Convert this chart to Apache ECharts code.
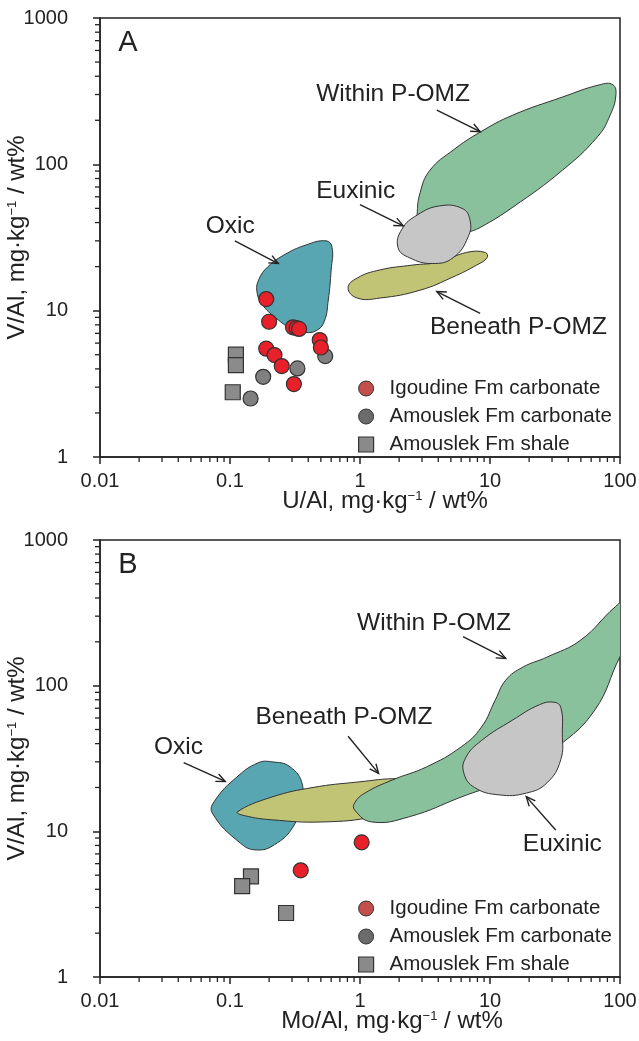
<!DOCTYPE html>
<html><head><meta charset="utf-8">
<script src="https://cdn.jsdelivr.net/npm/echarts@6/dist/echarts.min.js"></script>
<style>html,body{margin:0;padding:0;background:#fff}#c{width:639px;height:1041px}</style>
</head><body><div id="c"></div>
<script>
const FONT = "'Liberation Sans', Arial, Helvetica, sans-serif";
const INK = '#222';

// axis ticks
const xTickLabels = ['0.01', '0.1', '1', '10', '100'];
const yTickLabels = ['1', '10', '100', '1000'];
const minorMultipliers = [2, 3, 4, 5, 6, 7, 8, 9];
const xDecades = [0.01, 0.1, 1, 10];
const yDecades = [1, 10, 100];

const seriesNames = ['Igoudine Fm carbonate', 'Amouslek Fm carbonate', 'Amouslek Fm shale'];

// ---- Panel A : [U/Al, V/Al]
const igoudineA = [[0.19, 12.0], [0.20, 8.4], [0.305, 7.7], [0.325, 7.6], [0.34, 7.5], [0.49, 6.3], [0.50, 5.6], [0.19, 5.5], [0.22, 4.97], [0.25, 4.18], [0.31, 3.15]];
const amouslekCarbA = [[0.33, 4.03], [0.18, 3.53], [0.144, 2.51], [0.54, 4.89]];
const amouslekShaleA = [[0.111, 5.0], [0.111, 4.25], [0.105, 2.77]];

// ---- Panel B : [Mo/Al, V/Al]
const igoudineB = [[1.03, 8.4], [0.35, 5.4]];
const amouslekCarbB = [];
const amouslekShaleB = [[0.145, 4.9], [0.124, 4.2], [0.27, 2.75]];

// ---- Field outlines, panel A
const oxicA = [[0.55, 30], [0.61, 27], [0.60, 19], [0.57, 11.8], [0.53, 8.4], [0.46, 7.3], [0.38, 7.1], [0.30, 7.5], [0.226, 8.9], [0.176, 11.1], [0.161, 13.6], [0.167, 16.4], [0.196, 20], [0.26, 24], [0.38, 28]];
const withinA = [[70, 350], [88, 350], [93, 298], [84, 217], [67, 154], [36, 91], [15, 51], [8.4, 37], [6.6, 34], [4.7, 30], [2.8, 37], [2.75, 45], [2.9, 64], [3.45, 91], [5.2, 125], [8.4, 166], [15, 217], [36, 288]];
const euxinicA = [[4.1, 52], [6.1, 50], [7.0, 42], [6.8, 32], [5.2, 23], [3.6, 21], [2.4, 23], [1.96, 27], [2.1, 36], [2.75, 45]];
const beneathA = [[9.2, 25], [6.6, 25], [4.1, 21.5], [2.55, 20.5], [1.43, 19], [0.95, 16.7], [0.81, 14.3], [0.95, 12.2], [1.43, 12.2], [2.9, 13.8], [5.2, 17], [7.9, 20.5], [9.5, 23]];

// ---- Field outlines, panel B
const oxicB = [[0.21, 30], [0.29, 27.7], [0.36, 21], [0.345, 15.2], [0.305, 10.7], [0.22, 8.1], [0.16, 7.45], [0.12, 8.3], [0.073, 13.4], [0.077, 16.4], [0.113, 23.6], [0.164, 29.5]];
const beneathB = [[0.114, 13.6], [0.21, 17.2], [0.435, 20], [0.96, 21.8], [2.0, 23], [3.25, 21.8], [5.3, 19], [5.8, 18.1], [4.4, 16.4], [1.3, 12.6], [0.52, 11.6], [0.21, 12.0], [0.13, 12.8]];
const withinB = [[0.91, 14], [1.23, 11.6], [2.4, 12.6], [6.0, 17.2], [14.9, 23.6], [33, 38], [64, 68], [100, 158], [150, 300], [150, 480], [92, 348], [50, 206], [27.4, 157], [17.9, 134], [13.2, 109], [11, 80], [8.6, 52], [6.0, 38], [3.25, 27.7], [1.77, 22.5], [1.09, 18.3], [0.91, 15.7]];
const euxinicB = [[31, 77], [35, 71], [36, 47], [35, 31], [27.4, 21.5], [19, 18.3], [11.7, 17.8], [7.6, 20], [6.3, 25], [6.5, 32], [8.6, 42], [14.9, 58], [24, 74]];

// ---- Annotations
const labelTextA = ['Within P-OMZ', 'Euxinic', 'Beneath P-OMZ', 'Oxic'];
const labelPosA = [[0.46, 302], [0.46, 65], [3.45, 7.7], [0.065, 38]];
const arrowsA = [[3.9, 235, 8.4, 167], [1.0, 53, 2.15, 38], [8.4, 9.6, 3.9, 13.5], [0.109, 30, 0.235, 21]];
const labelTextB = ['Within P-OMZ', 'Beneath P-OMZ', 'Oxic', 'Euxinic'];
const labelPosB = [[0.95, 270], [0.157, 61], [0.026, 38], [17.9, 8.1]];
const arrowsB = [[6.2, 217, 13.2, 154], [0.81, 45, 1.39, 25], [0.044, 29.6, 0.092, 22], [32, 10.2, 19, 17.3]];
const panelLetters = ['A', 'B'];
const panelLetterPos = [[0.0138, 675], [0.0138, 673]];
const xNames = ['U/Al, mg·kg{sup|−1} / wt%', 'Mo/Al, mg·kg{sup|−1} / wt%'];
const yName = 'V/Al, mg·kg{sup|−1} / wt%';

const COLORS = { oxic: '#57a6b2', within: '#88c19b', euxinic: '#c6c6c6', beneath: '#c0c474' };

function polySeries(pts, color, gi) {
  return {
    type: 'custom', xAxisIndex: gi, yAxisIndex: gi, silent: true, clip: true, animation: false,
    data: [pts[0]],
    renderItem: function (params, api) {
      return {
        type: 'polygon',
        shape: { points: pts.map(p => api.coord(p)), smooth: 0.45 },
        style: { fill: color, stroke: '#333', lineWidth: 1 }
      };
    }
  };
}

function textSeries(texts, pos, gi, size) {
  return {
    type: 'custom', xAxisIndex: gi, yAxisIndex: gi, silent: true, clip: false, animation: false, z: 6,
    data: pos.map((p, i) => [p[0], p[1], i]),
    renderItem: function (params, api) {
      const c = api.coord([api.value(0), api.value(1)]);
      return {
        type: 'text', x: c[0], y: c[1],
        style: { text: texts[api.value(2)], fill: INK, fontSize: size, fontFamily: FONT, align: 'left', verticalAlign: 'middle' }
      };
    }
  };
}

function arrowSeries(arrows, gi) {
  return {
    type: 'custom', xAxisIndex: gi, yAxisIndex: gi, silent: true, clip: false, animation: false, z: 6,
    data: arrows,
    renderItem: function (params, api) {
      const a = api.coord([api.value(0), api.value(1)]);
      const b = api.coord([api.value(2), api.value(3)]);
      const ang = Math.atan2(b[1] - a[1], b[0] - a[0]);
      const L = 10, w = 0.42;
      const p1 = [b[0] - L * Math.cos(ang - w), b[1] - L * Math.sin(ang - w)];
      const p2 = [b[0] - L * Math.cos(ang + w), b[1] - L * Math.sin(ang + w)];
      return {
        type: 'group', children: [
          { type: 'line', shape: { x1: a[0], y1: a[1], x2: b[0], y2: b[1] }, style: { stroke: INK, lineWidth: 1.4 } },
          { type: 'polyline', shape: { points: [p1, b, p2] }, style: { stroke: INK, lineWidth: 1.4, fill: null } }
        ]
      };
    }
  };
}

function minorTickSeries(gi) {
  const xs = [], ys = [];
  xDecades.forEach(d => minorMultipliers.forEach(m => xs.push(['x', d * m])));
  yDecades.forEach(d => minorMultipliers.forEach(m => ys.push(['y', d * m])));
  const all = xs.concat(ys).map(t => t[0] === 'x' ? [t[1], 1, 0] : [0.01, t[1], 1]);
  return {
    type: 'custom', xAxisIndex: gi, yAxisIndex: gi, silent: true, clip: false, animation: false,
    data: all,
    renderItem: function (params, api) {
      const c = api.coord([api.value(0), api.value(1)]);
      if (api.value(2) === 0) {
        return { type: 'line', shape: { x1: c[0], y1: c[1], x2: c[0], y2: c[1] + 5 }, style: { stroke: INK, lineWidth: 1.3 } };
      }
      return { type: 'line', shape: { x1: c[0], y1: c[1], x2: c[0] - 5, y2: c[1] }, style: { stroke: INK, lineWidth: 1.3 } };
    }
  };
}

function pointSeries(name, data, gi, symbol, color, size) {
  return {
    name: name, type: 'scatter', xAxisIndex: gi, yAxisIndex: gi, data: data, symbol: symbol, symbolSize: size,
    itemStyle: { color: color, borderColor: '#333', borderWidth: 1.2, opacity: 1 }, z: 4, animation: false
  };
}

function xAxis(gi) {
  return {
    gridIndex: gi, type: 'log', logBase: 10, min: 0.01, max: 100,
    axisLine: { show: true, lineStyle: { color: INK, width: 1.5 } },
    axisTick: { show: true, inside: false, length: 7, lineStyle: { color: INK, width: 1.5 } },
    axisLabel: { fontSize: 20, color: INK, fontFamily: FONT, margin: 14, formatter: (v, i) => xTickLabels[i] },
    splitLine: { show: false },
    name: xNames[gi], nameLocation: 'middle', nameGap: 32, nameMoveOverlap: false,
    nameTextStyle: { fontSize: 24, color: INK, fontFamily: FONT, padding: [0, 0, 0, gi === 0 ? 50 : 64], rich: { sup: { fontSize: 13, fontFamily: FONT, color: INK, padding: [0, 0, 10, 0] } } }
  };
}

function yAxis(gi) {
  return {
    gridIndex: gi, type: 'log', logBase: 10, min: 1, max: 1000,
    axisLine: { show: true, lineStyle: { color: INK, width: 1.5 } },
    axisTick: { show: true, inside: false, length: 7, lineStyle: { color: INK, width: 1.5 } },
    axisLabel: { fontSize: 20, color: INK, fontFamily: FONT, margin: 32, formatter: (v, i) => yTickLabels[i] },
    splitLine: { show: false },
    name: yName, nameLocation: 'middle', nameGap: 71, nameRotate: 90, nameMoveOverlap: false,
    nameTextStyle: { fontSize: 24, color: INK, fontFamily: FONT, rich: { sup: { fontSize: 13, fontFamily: FONT, color: INK, padding: [0, 0, 10, 0] } } }
  };
}

function legend(gi, top) {
  return {
    orient: 'vertical', left: 358, top: top, itemWidth: 15, itemHeight: 15, itemGap: 7, padding: 0,
    selectedMode: false,
    textStyle: { fontSize: 20.5, color: INK, fontFamily: FONT, lineHeight: 20, padding: [0, 0, 0, 11] },
    data: [
      { name: seriesNames[0], icon: 'circle', itemStyle: { color: '#c44e4b', borderColor: '#333', borderWidth: 1 } },
      { name: seriesNames[1], icon: 'circle', itemStyle: { color: '#6b6b6b', borderColor: '#333', borderWidth: 1 } },
      { name: seriesNames[2], icon: 'rect', itemStyle: { color: '#8a8a8a', borderColor: '#333', borderWidth: 1.2 } }
    ]
  };
}

const series = [
  // panel A fields
  polySeries(beneathA, COLORS.beneath, 0),
  polySeries(oxicA, COLORS.oxic, 0),
  polySeries(withinA, COLORS.within, 0),
  polySeries(euxinicA, COLORS.euxinic, 0),
  // panel B fields
  polySeries(oxicB, COLORS.oxic, 1),
  polySeries(beneathB, COLORS.beneath, 1),
  polySeries(withinB, COLORS.within, 1),
  polySeries(euxinicB, COLORS.euxinic, 1),
  minorTickSeries(0), minorTickSeries(1),
  pointSeries(seriesNames[2], amouslekShaleA, 0, 'rect', '#8b8b8b', 15),
  pointSeries(seriesNames[1], amouslekCarbA, 0, 'circle', '#808080', 15),
  pointSeries(seriesNames[0], igoudineA, 0, 'circle', '#e8202a', 15),
  pointSeries(seriesNames[2], amouslekShaleB, 1, 'rect', '#8b8b8b', 15),
  pointSeries(seriesNames[1], amouslekCarbB, 1, 'circle', '#808080', 15),
  pointSeries(seriesNames[0], igoudineB, 1, 'circle', '#e8202a', 15),
  textSeries(labelTextA, labelPosA, 0, 24.5),
  textSeries(labelTextB, labelPosB, 1, 24.5),
  arrowSeries(arrowsA, 0),
  arrowSeries(arrowsB, 1),
  textSeries([panelLetters[0]], [panelLetterPos[0]], 0, 29),
  textSeries([panelLetters[1]], [panelLetterPos[1]], 1, 29)
];

const chart = echarts.init(document.getElementById('c'), null, { renderer: 'canvas' });
chart.setOption({
  animation: false,
  backgroundColor: '#fff',
  grid: [
    { left: 100, top: 18, width: 520, height: 439, show: true, borderColor: INK, borderWidth: 1.5, containLabel: false, outerBoundsMode: 'none' },
    { left: 100, top: 540, width: 520, height: 437, show: true, borderColor: INK, borderWidth: 1.5, containLabel: false, outerBoundsMode: 'none' }
  ],
  xAxis: [xAxis(0), xAxis(1)],
  yAxis: [yAxis(0), yAxis(1)],
  legend: [legend(0, 378), legend(1, 898)],
  series: series
});
</script>
</body></html>
